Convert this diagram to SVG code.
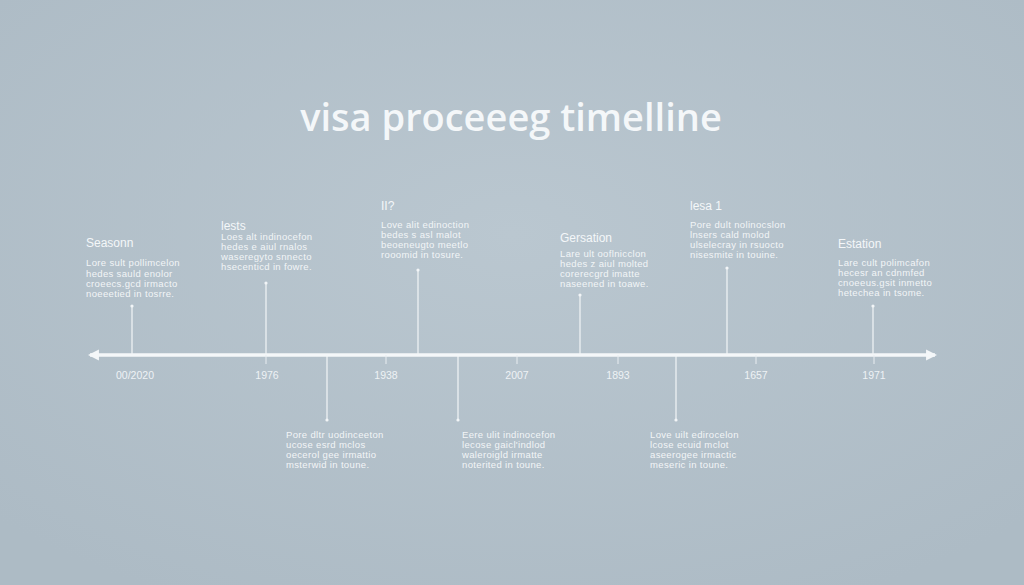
<svg xmlns="http://www.w3.org/2000/svg" width="1024" height="585" viewBox="0 0 1024 585">
<defs>
<radialGradient id="bg" cx="50%" cy="40%" r="70%">
<stop offset="0" stop-color="#bac7d0"/>
<stop offset="1" stop-color="#adbbc5"/>
</radialGradient>
<marker id="ah" viewBox="0 0 10 10" refX="8" refY="5" markerWidth="3.2" markerHeight="3.2" orient="auto-start-reverse">
<path d="M0,0 L10,5 L0,10 z" fill="#f4f7f9"/>
</marker>
</defs>
<style>
.title{font-family:"Open Sans","Liberation Sans",sans-serif;font-size:38px;font-weight:600;fill:#f4f7f9;text-anchor:middle}
.head{font-family:"Liberation Sans",sans-serif;font-size:12px;fill:#f4f7f9}
.body{font-family:"Liberation Sans",sans-serif;font-size:9.5px;letter-spacing:0.35px;fill:#f2f5f7}
.yr{font-family:"Liberation Sans",sans-serif;font-size:10.5px;fill:#eef2f5;text-anchor:middle}
.stem{stroke:#f2f5f7;stroke-width:1.2;fill:none}
.tick{stroke:#e8edf1;stroke-width:1;fill:none}
.dot{fill:#f2f5f7}
</style>
<rect width="1024" height="585" fill="url(#bg)"/>
<text class="title" x="511" y="131">visa proceeeg timelline</text>
<g id="connectors">
<line x1="90" y1="355" x2="935" y2="355" stroke="#f4f7f9" stroke-width="3.5" marker-start="url(#ah)" marker-end="url(#ah)"/>
<line class="stem" x1="132" y1="306" x2="132" y2="355"/>
<line class="stem" x1="266" y1="283" x2="266" y2="355"/>
<line class="stem" x1="418" y1="270" x2="418" y2="355"/>
<line class="stem" x1="580" y1="295" x2="580" y2="355"/>
<line class="stem" x1="727" y1="268" x2="727" y2="355"/>
<line class="stem" x1="873" y1="306" x2="873" y2="355"/>
<line class="stem" x1="327" y1="355" x2="327" y2="420"/>
<line class="stem" x1="458" y1="355" x2="458" y2="420"/>
<line class="stem" x1="676" y1="355" x2="676" y2="420"/>
<line class="tick" x1="266" y1="355" x2="266" y2="364"/>
<line class="tick" x1="386" y1="355" x2="386" y2="364"/>
<line class="tick" x1="517" y1="355" x2="517" y2="364"/>
<line class="tick" x1="618" y1="355" x2="618" y2="364"/>
<line class="tick" x1="756" y1="355" x2="756" y2="364"/>
<line class="tick" x1="874" y1="355" x2="874" y2="364"/>
<circle class="dot" cx="132" cy="306" r="1.6"/>
<circle class="dot" cx="266" cy="283" r="1.6"/>
<circle class="dot" cx="418" cy="270" r="1.6"/>
<circle class="dot" cx="580" cy="295" r="1.6"/>
<circle class="dot" cx="727" cy="268" r="1.6"/>
<circle class="dot" cx="873" cy="306" r="1.6"/>
<circle class="dot" cx="327" cy="420" r="1.6"/>
<circle class="dot" cx="458" cy="420" r="1.6"/>
<circle class="dot" cx="676" cy="420" r="1.6"/>
</g>
<g id="years">
<text class="yr" x="135" y="379">00/2020</text>
<text class="yr" x="267" y="379">1976</text>
<text class="yr" x="386" y="379">1938</text>
<text class="yr" x="517" y="379">2007</text>
<text class="yr" x="618" y="379">1893</text>
<text class="yr" x="756" y="379">1657</text>
<text class="yr" x="874" y="379">1971</text>
</g>
<g id="n1">
<text class="head" x="86" y="247">Seasonn</text>
<text class="body" x="86" y="266">Lore sult pollimcelon</text>
<text class="body" x="86" y="277">hedes sauld enolor</text>
<text class="body" x="86" y="287">croeecs.gcd irmacto</text>
<text class="body" x="86" y="297">noeeetied in tosrre.</text>
</g>
<g id="n2">
<text class="head" x="221" y="230">lests</text>
<text class="body" x="221" y="240">Loes alt indinocefon</text>
<text class="body" x="221" y="250">hedes e aiul rnalos</text>
<text class="body" x="221" y="260">waseregyto snnecto</text>
<text class="body" x="221" y="270">hsecenticd in fowre.</text>
</g>
<g id="n3">
<text class="head" x="381" y="210">II?</text>
<text class="body" x="381" y="228">Love alit edinoction</text>
<text class="body" x="381" y="238">bedes s asl malot</text>
<text class="body" x="381" y="248">beoeneugto meetlo</text>
<text class="body" x="381" y="258">rooomid in tosure.</text>
</g>
<g id="n4">
<text class="head" x="560" y="242">Gersation</text>
<text class="body" x="560" y="257">Lare ult ooflnicclon</text>
<text class="body" x="560" y="267">hedes z aiul molted</text>
<text class="body" x="560" y="277">corerecgrd imatte</text>
<text class="body" x="560" y="287">naseened in toawe.</text>
</g>
<g id="n5">
<text class="head" x="690" y="210">lesa 1</text>
<text class="body" x="690" y="228">Pore dult nolinocslon</text>
<text class="body" x="690" y="238">lnsers cald molod</text>
<text class="body" x="690" y="248">ulselecray in rsuocto</text>
<text class="body" x="690" y="258">nisesmite in touine.</text>
</g>
<g id="n6">
<text class="head" x="838" y="248">Estation</text>
<text class="body" x="838" y="266">Lare cult polimcafon</text>
<text class="body" x="838" y="276">hecesr an cdnmfed</text>
<text class="body" x="838" y="286">cnoeeus.gsit inmetto</text>
<text class="body" x="838" y="296">hetechea in tsome.</text>
</g>
<g id="n7">
<text class="body" x="286" y="438">Pore dltr uodinceeton</text>
<text class="body" x="286" y="448">ucose esrd mclos</text>
<text class="body" x="286" y="458">oecerol gee irmattio</text>
<text class="body" x="286" y="468">msterwid in toune.</text>
</g>
<g id="n8">
<text class="body" x="462" y="438">Eere ulit indinocefon</text>
<text class="body" x="462" y="448">lecose gaicl'indlod</text>
<text class="body" x="462" y="458">waleroigld irmatte</text>
<text class="body" x="462" y="468">noterited in toune.</text>
</g>
<g id="n9">
<text class="body" x="650" y="438">Love uilt edirocelon</text>
<text class="body" x="650" y="448">lcose ecuid mclot</text>
<text class="body" x="650" y="458">aseerogee irmactic</text>
<text class="body" x="650" y="468">meseric in toune.</text>
</g>
</svg>
